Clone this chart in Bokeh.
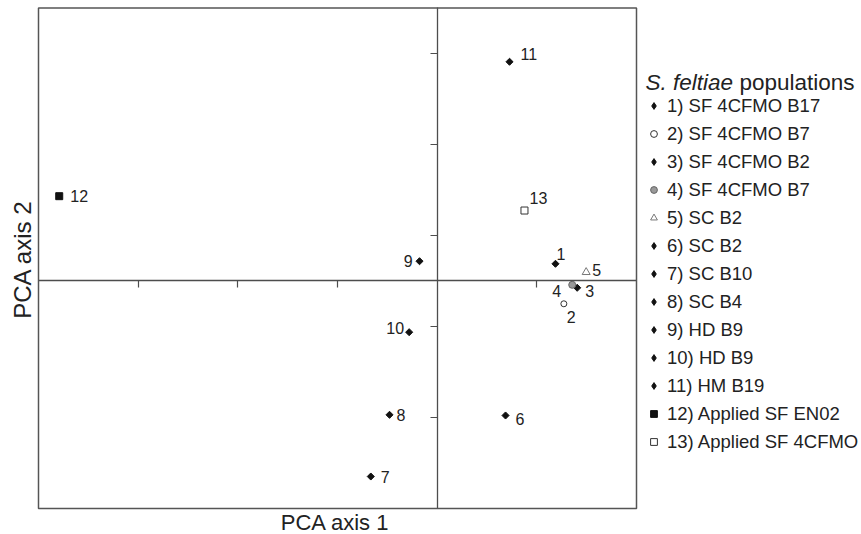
import math
from bokeh.plotting import figure
from bokeh.models import (ColumnDataSource, LinearAxis, FixedTicker, Legend,
                          LegendItem, Label, Range1d, BoxAnnotation,
                          CustomJSTickFormatter)
from bokeh.core.properties import value
from bokeh.embed import file_html
from bokeh.resources import INLINE

# ---------------- data ----------------
populations = [
    "1) SF 4CFMO B17", "2) SF 4CFMO B7", "3) SF 4CFMO B2", "4) SF 4CFMO B7",
    "5) SC B2", "6) SC B2", "7) SC B10", "8) SC B4", "9) HD B9", "10) HD B9",
    "11) HM B19", "12) Applied SF EN02", "13) Applied SF 4CFMO",
]
point_ids = ["1", "2", "3", "4", "5", "6", "7", "8", "9", "10", "11", "12", "13"]
pca1 = [1.187, 1.271, 1.405, 1.355, 1.495, 0.686, -0.666, -0.478, -0.177, -0.281, 0.726, -3.792, 0.876]
pca2 = [0.378, -0.501, -0.149, -0.084, 0.193, -2.956, -4.297, -2.941, 0.435, -1.125, 4.818, 1.864, 1.549]
x_ticks = [-3, -2, -1, 1]
y_ticks = [-3, -1, 1, 3, 5]
x_box = (-4, 2)     # plotted region of PCA axis 1
y_box = (-5, 6)     # plotted region of PCA axis 2

# ---------------- styles ----------------
FONT = "Liberation Sans"
TXT = "#222222"
DIAMOND = dict(marker="diamond", size=5, fill_color="#111111", line_color="#111111")
marker_styles = [
    DIAMOND,
    dict(marker="circle", size=6, fill_color="white", line_color="#333333"),
    DIAMOND,
    dict(marker="circle", size=7, fill_color="#999999", line_color="#666666"),
    dict(marker="triangle", size=8, fill_color="white", line_color="#777777"),
    DIAMOND, DIAMOND, DIAMOND, DIAMOND, DIAMOND, DIAMOND,
    dict(marker="square", size=7, fill_color="#111111", line_color="#111111"),
    dict(marker="square", size=7, fill_color="white", line_color="#333333"),
]
# label offsets in screen pixels (dx, dy, align)
label_offsets = [
    (1, -10, "left"), (3, 13, "left"), (8, 3, "left"), (-11, 6, "right"),
    (6, -2, "left"), (10, 4, "left"), (10, 0, "left"), (7, 0, "left"),
    (-7, 0, "right"), (-5, -4, "right"), (11, -8, "left"), (11, 0, "left"),
    (5, -13, "left"),
]

p = figure(width=861, height=534,
           x_range=Range1d(-4.3813, 4.2575), y_range=Range1d(-5.5714, 6.1648),
           output_backend="svg", toolbar_location=None,
           x_axis_location=None, y_axis_location=None,
           min_border_left=0, min_border_right=0,
           min_border_top=0, min_border_bottom=0)
p.grid.visible = False
p.outline_line_color = None
p.background_fill_color = "white"
p.border_fill_color = "white"

# box around the plotted region
p.add_layout(BoxAnnotation(left=x_box[0], right=x_box[1], bottom=y_box[0], top=y_box[1],
                           fill_alpha=0, line_color="#555555", line_alpha=1.0,
                           line_width=1.5))

# centre axes crossing at the origin (no tick labels)
no_labels = CustomJSTickFormatter(code="return ''")
axis_style = dict(major_tick_in=0, major_tick_out=7,
                  axis_line_color="#4d4d4d", axis_line_width=1.3,
                  major_tick_line_color="#4d4d4d", major_tick_line_width=1.2,
                  minor_tick_line_color=None, major_label_standoff=0)
xa = LinearAxis(fixed_location=0, bounds=x_box, ticker=FixedTicker(ticks=x_ticks),
                formatter=no_labels, **axis_style)
ya = LinearAxis(fixed_location=0, bounds=y_box, ticker=FixedTicker(ticks=y_ticks),
                formatter=no_labels, **axis_style)
p.add_layout(xa, "below")
p.add_layout(ya, "left")

# points, one renderer per population
items = []
for i, name in enumerate(populations):
    st = marker_styles[i]
    src = ColumnDataSource(dict(x=[pca1[i]], y=[pca2[i]]))
    if st["marker"] == "diamond":
        # square diamond on the plot (rotated square)
        p.scatter(x="x", y="y", source=src, marker="square", size=st["size"],
                  angle=math.pi / 4, fill_color=st["fill_color"],
                  line_color=st["line_color"], line_width=1)
        # zero-size diamond used for the legend symbol
        r = p.scatter(x="x", y="y", source=src, marker="diamond", size=0,
                      fill_color=st["fill_color"], line_color=st["line_color"],
                      line_width=1)
    else:
        r = p.scatter(x="x", y="y", source=src, marker=st["marker"], size=st["size"],
                      fill_color=st["fill_color"], line_color=st["line_color"],
                      line_width=1)
    items.append(LegendItem(label=name, renderers=[r]))

# point labels
lab_src = ColumnDataSource(dict(
    x=pca1, y=pca2, text=point_ids,
    xo=[o[0] for o in label_offsets], yo=[o[1] for o in label_offsets],
    align=[o[2] for o in label_offsets]))
p.text(x="x", y="y", text="text", x_offset="xo", y_offset="yo",
       text_align="align", text_baseline="middle", source=lab_src,
       text_font=value(FONT), text_font_size="16px", text_color=TXT)

# legend
legend = Legend(items=items, location=(645, 80), orientation="vertical",
                glyph_width=17, glyph_height=25, label_height=25, spacing=3,
                label_standoff=5, padding=0, margin=0,
                border_line_color=None, background_fill_alpha=0,
                label_text_font=FONT, label_text_font_size="18.5px",
                label_text_color=TXT)
p.add_layout(legend, "center")

# legend title
p.add_layout(Label(x=2.090, y=4.369, text="S. feltiae", text_font=FONT,
                   text_font_style="italic", text_font_size="22.5px",
                   text_baseline="middle", text_color=TXT))
p.add_layout(Label(x=2.090, y=4.369, x_offset=94, text="populations", text_font=FONT,
                   text_font_size="22.5px", text_baseline="middle", text_color=TXT))

# axis titles
p.add_layout(Label(x=-1.023, y=-5.022, text="PCA axis 1", text_font=FONT,
                   text_font_size="22px", text_align="center",
                   text_baseline="top", text_color=TXT))
p.add_layout(Label(x=-4.156, y=0.473, angle=math.pi / 2, text="PCA axis 2",
                   text_font=FONT, text_font_size="24px", text_align="center",
                   text_baseline="middle", text_color=TXT))

open("out.html", "w").write(file_html(p, INLINE))
